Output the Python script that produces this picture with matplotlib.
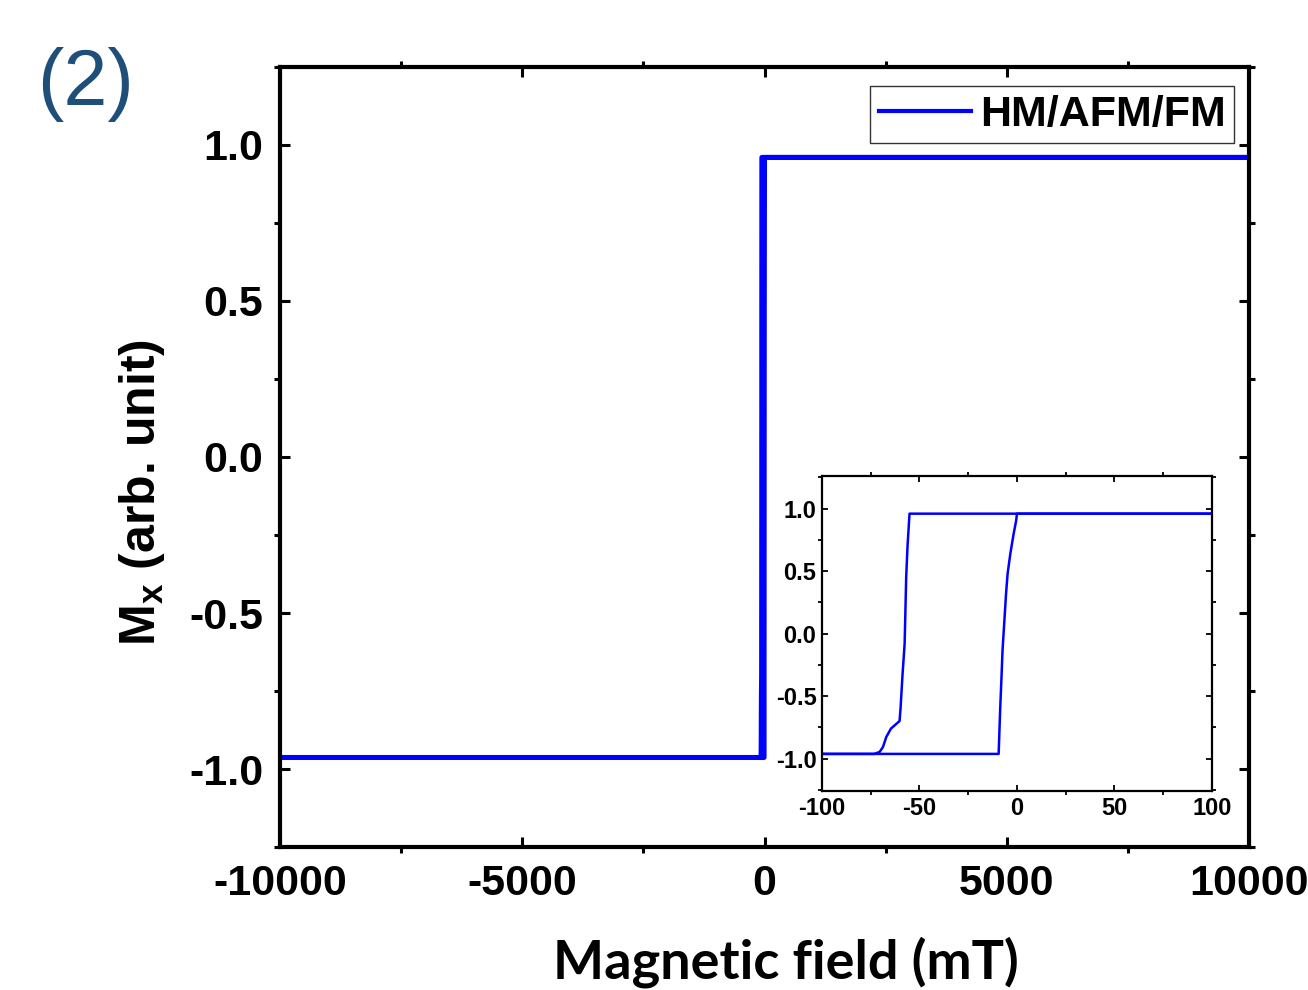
import matplotlib
matplotlib.use('Agg')
import matplotlib.pyplot as plt
from matplotlib.ticker import MultipleLocator

plt.rcParams['font.family'] = 'Liberation Sans'
plt.rcParams['axes.unicode_minus'] = False
plt.rcParams['mathtext.fontset'] = 'custom'
plt.rcParams['mathtext.rm'] = 'Liberation Sans:bold'
plt.rcParams['mathtext.it'] = 'Liberation Sans:bold'
plt.rcParams['mathtext.bf'] = 'Liberation Sans:bold'

# descending branch (field swept from +H to -H)
h_down = [10000, -55.1, -56.1, -56.8, -57.6, -58.7, -59.7, -60.2, -64.6, -67.0, -68.7, -70.4, -73.2, -10000]
m_down = [0.96, 0.96, 0.706, 0.453, -0.08, -0.333, -0.6, -0.70, -0.76, -0.827, -0.907, -0.947, -0.963, -0.963]
# ascending branch (field swept from -H to +H)
h_up = [-10000, -9.4, -9.1, -8.6, -8.0, -7.4, -6.5, -5.6, -4.8, -3.4, -1.7, -0.4, 0.0, 10000]
m_up = [-0.963, -0.963, -0.827, -0.6, -0.373, -0.133, 0.093, 0.32, 0.48, 0.64, 0.8, 0.906, 0.96, 0.96]

label = 'HM/AFM/FM'
blue = '#0000ff'

fig = plt.figure(figsize=(13.08, 9.9), dpi=100)
ax = fig.add_axes([0.214, 0.1444, 0.741, 0.788])

ax.plot(h_down, m_down, color=blue, lw=3.6, label=label)
ax.plot(h_up, m_up, color=blue, lw=3.6)
ax.set_xlim(-10000, 10000)
ax.set_ylim(-1.25, 1.25)
ax.xaxis.set_major_locator(MultipleLocator(5000))
ax.xaxis.set_minor_locator(MultipleLocator(2500))
ax.yaxis.set_major_locator(MultipleLocator(0.5))
ax.yaxis.set_minor_locator(MultipleLocator(0.25))
ax.tick_params(which='both', top=True, right=True, labelsize=31, width=2.2)
ax.tick_params(which='major', direction='in', length=7)
ax.tick_params(which='minor', direction='out', length=4)
ax.tick_params(axis='x', which='major', pad=12)
ax.tick_params(axis='y', which='major', pad=12)
for t in ax.get_xticklabels() + ax.get_yticklabels():
    t.set_fontweight('bold')
for s in ax.spines.values():
    s.set_linewidth(3)

leg = ax.legend(loc='upper right', bbox_to_anchor=(0.9845, 0.9756), borderaxespad=0,
                fancybox=False, edgecolor='black', handlelength=2.15, handletextpad=0.2,
                borderpad=0.2, prop={'weight': 'bold', 'size': 31})
leg.get_frame().set_linewidth(1.0)
leg.get_lines()[0].set_linewidth(3)

fig.text(142 / 1308, 1 - 493 / 990, r'M$_\mathrm{x}$ (arb. unit)', rotation=90,
         ha='center', va='center', fontsize=36, fontweight='bold')
fig.text(786 / 1308, 1 - 978 / 990, 'Magnetic field (mT)', ha='center', va='baseline',
         fontsize=39, fontweight='bold', family='Lato')
fig.text(37 / 1308, 1 - 105 / 990, '(2)', ha='left', va='baseline', fontsize=57,
         color='#1f4e79')

# inset: zoom around zero field
ins = fig.add_axes([0.6284, 0.201, 0.2982, 0.318])
ins.plot(h_down, m_down, color=blue, lw=1.8)
ins.plot(h_up, m_up, color=blue, lw=1.8)
ins.set_xlim(-100, 100)
ins.set_ylim(-1.26, 1.26)
ins.xaxis.set_major_locator(MultipleLocator(50))
ins.xaxis.set_minor_locator(MultipleLocator(25))
ins.yaxis.set_major_locator(MultipleLocator(0.5))
ins.yaxis.set_minor_locator(MultipleLocator(0.25))
ins.tick_params(which='both', top=True, right=True, labelsize=17, width=1.3)
ins.tick_params(which='major', direction='in', length=4.5)
ins.tick_params(which='minor', direction='out', length=3)
ins.tick_params(which='major', pad=4)
for t in ins.get_xticklabels() + ins.get_yticklabels():
    t.set_fontweight('bold')
for s in ins.spines.values():
    s.set_linewidth(1.6)

fig.savefig('out.png', dpi=100)
